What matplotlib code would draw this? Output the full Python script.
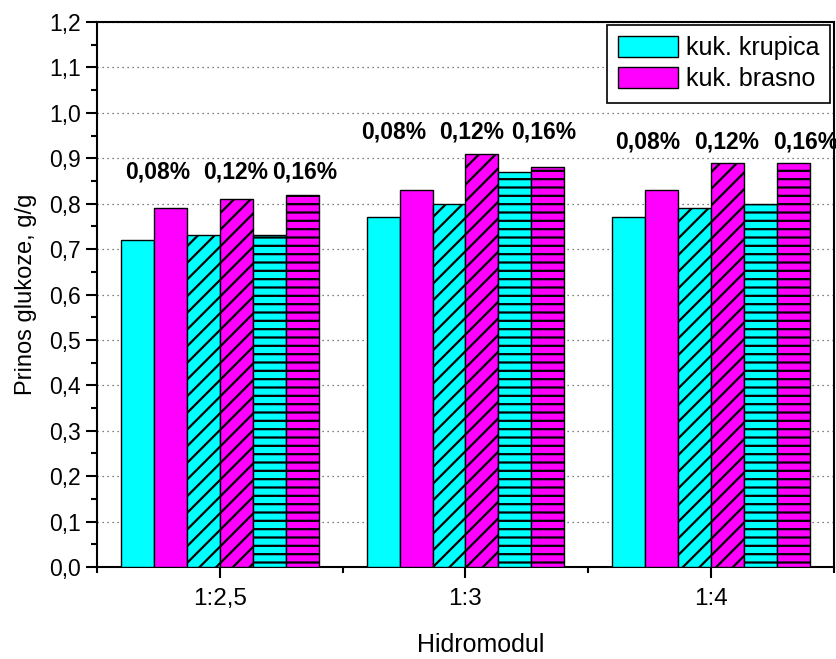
import matplotlib
matplotlib.use("Agg")
import matplotlib.pyplot as plt
import numpy as np
from matplotlib.ticker import MultipleLocator, FixedLocator, FuncFormatter
from matplotlib.patches import Patch

# ---- data ----
groups = ["1:2,5", "1:3", "1:4"]
concentrations = ["0,08%", "0,12%", "0,16%"]
series_names = ["kuk. krupica", "kuk. brasno"]
# values per concentration, per material (krupica, brasno), per group
krupica_008 = [0.72, 0.77, 0.77]
brasno_008 = [0.79, 0.83, 0.83]
krupica_012 = [0.73, 0.80, 0.79]
brasno_012 = [0.81, 0.91, 0.89]
krupica_016 = [0.73, 0.87, 0.80]
brasno_016 = [0.82, 0.88, 0.89]

series = [krupica_008, brasno_008, krupica_012, brasno_012, krupica_016, brasno_016]
colors = ["#00FFFF", "#FF00FF"] * 3
hatches = ["", "", "//", "//", "--", "--"]

# layout of concentration labels (offset from group centre, height)
label_dx = [[-0.253, 0.065, 0.346], [-0.291, 0.026, 0.320], [-0.257, 0.061, 0.383]]
label_y = [0.870, 0.958, 0.936]

plt.rcParams["font.family"] = ["Liberation Sans", "DejaVu Sans"]
plt.rcParams["hatch.linewidth"] = 1.6

fig = plt.figure(figsize=(8.37, 6.59), dpi=100)
ax = fig.add_axes([0.1159, 0.1396, 0.8805, 0.827])

x = np.arange(1, len(groups) + 1)
w = 0.134
for i, vals in enumerate(series):
    ax.bar(x + (i - 2.5) * w, vals, width=w, color=colors[i], edgecolor="black",
           linewidth=1.0, hatch=hatches[i], zorder=3)

for gi in range(len(groups)):
    for ci, lab in enumerate(concentrations):
        ax.text(x[gi] + label_dx[gi][ci], label_y[gi], lab, ha="center", va="center",
                fontsize=16.5, fontweight="bold", clip_on=False, zorder=5)

ax.set_xlim(0.5, 3.5)
ax.set_ylim(0, 1.2)
ax.yaxis.set_major_locator(MultipleLocator(0.1))
ax.yaxis.set_minor_locator(MultipleLocator(0.05))
ax.yaxis.set_major_formatter(FuncFormatter(lambda v, p: f"{v:.1f}".replace(".", ",")))
ax.set_xticks(x)
ax.set_xticklabels(groups)
ax.xaxis.set_minor_locator(FixedLocator([0.5, 1.5, 2.5, 3.5]))

ax.tick_params(axis="both", which="major", direction="out", length=8, width=1.5, pad=3.5)
ax.tick_params(axis="y", which="major", labelsize=16.5)
ax.tick_params(axis="x", which="major", labelsize=17.5, pad=7)
ax.tick_params(axis="both", which="minor", direction="out", length=4.5, width=1.5)
for s in ax.spines.values():
    s.set_linewidth(1.5)

ax.grid(axis="y", which="major", linestyle=(0, (1, 3)), color="#555555", linewidth=0.9, zorder=0)

ax.set_ylabel("Prinos glukoze, g/g", fontsize=17, labelpad=9)
ax.set_xlabel("Hidromodul", fontsize=18)
ax.xaxis.set_label_coords(0.52, -0.122)

handles = [Patch(facecolor=colors[0], edgecolor="black", linewidth=1.0),
           Patch(facecolor=colors[1], edgecolor="black", linewidth=1.0)]
leg = ax.legend(handles, series_names, loc="upper right", bbox_to_anchor=(0.995, 0.995),
                fontsize=18, fancybox=False, framealpha=1, edgecolor="black",
                borderaxespad=0, handlelength=2.4, handleheight=0.9, handletextpad=0.3,
                labelspacing=0.3, borderpad=0.45)
leg.get_frame().set_linewidth(1.2)

fig.savefig("out.png", dpi=100)
